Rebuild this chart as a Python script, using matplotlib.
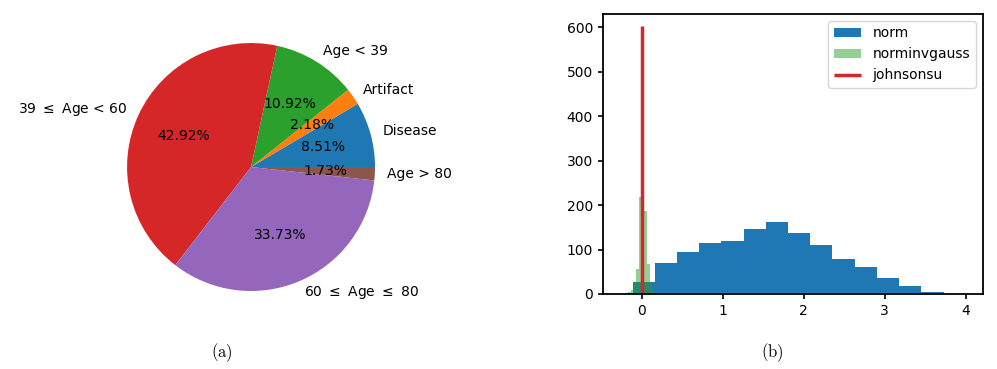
import matplotlib
matplotlib.use("Agg")
import matplotlib.pyplot as plt

# pie data (panel a)
pie_labels = ["Disease", "Artifact", "Age < 39", r"39 $\leq$ Age < 60",
              r"60 $\leq$ Age $\leq$ 80", "Age > 80"]
pie_shares = [8.51, 2.18, 10.92, 42.92, 33.73, 1.73]

# histogram data (panel b)
norm_edges = [-0.111, 0.163, 0.437, 0.711, 0.985, 1.259, 1.534, 1.808,
              2.082, 2.356, 2.630, 2.905, 3.179, 3.453, 3.727]
norm_counts = [26, 69, 95, 114, 120, 147, 161, 138, 110, 78, 60, 36, 18, 5]

nig_edges = [-0.270, -0.236, -0.203, -0.169, -0.136, -0.102, -0.068, -0.035,
             -0.001, 0.032, 0.066, 0.099, 0.133, 0.167, 0.200]
nig_counts = [1, 1, 2, 4, 10, 24, 57, 218, 565, 187, 67, 28, 8, 3]

johnsonsu_center = 0.0
johnsonsu_peak = 603

fig = plt.figure(figsize=(9.97, 3.69), dpi=100)

# (a) pie
ax1 = fig.add_axes([0.0963, 0.1274, 0.311, 0.840])
ax1.pie(pie_shares, labels=pie_labels, autopct="%.2f%%",
        textprops={"fontsize": 10})

# (b) histograms
ax2 = fig.add_axes([0.6045, 0.2033, 0.3811, 0.7588])
ax2.hist(norm_edges[:-1], bins=norm_edges, weights=norm_counts,
         color="C0", label="norm")
ax2.hist(nig_edges[:-1], bins=nig_edges, weights=nig_counts,
         color="C2", alpha=0.5, label="norminvgauss")
ax2.vlines(johnsonsu_center, 0, johnsonsu_peak, color="C3", lw=2.5,
           label="johnsonsu")
ax2.set_xlim(-0.48, 4.21)
ax2.set_ylim(0, 630)
ax2.set_xticks([0, 1, 2, 3, 4])
ax2.tick_params(labelsize=10, width=1.2)
for sp in ax2.spines.values():
    sp.set_linewidth(1.3)
ax2.legend(loc="upper right", fontsize=10)

# subfigure captions
plt.rcParams["mathtext.fontset"] = "cm"
fig.text(0.2227, 0.043, r"$\mathrm{(a)}$", ha="center", va="center", fontsize=12)
fig.text(0.7743, 0.043, r"$\mathrm{(b)}$", ha="center", va="center", fontsize=12)

fig.savefig("out.png", dpi=100)
